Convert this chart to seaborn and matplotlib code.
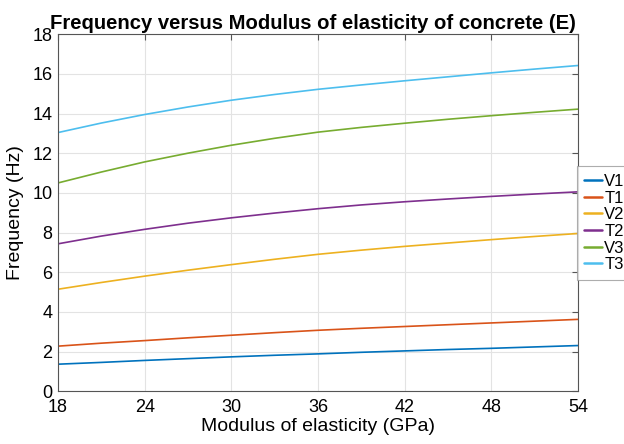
import matplotlib
matplotlib.use("Agg")
import matplotlib.pyplot as plt
import seaborn as sns
import pandas as pd

# Modulus of elasticity (GPa)
E = [18, 21, 24, 27, 30, 33, 36, 39, 42, 45, 48, 51, 54]

# Natural frequencies (Hz) per mode
V1 = [1.36, 1.45, 1.55, 1.64, 1.73, 1.81, 1.88, 1.96, 2.03, 2.10, 2.16, 2.23, 2.30]
T1 = [2.27, 2.42, 2.55, 2.69, 2.82, 2.95, 3.07, 3.17, 3.26, 3.35, 3.44, 3.53, 3.62]
V2 = [5.14, 5.48, 5.80, 6.10, 6.38, 6.65, 6.90, 7.11, 7.30, 7.47, 7.64, 7.80, 7.95]
T2 = [7.43, 7.82, 8.16, 8.47, 8.74, 8.98, 9.20, 9.39, 9.55, 9.69, 9.82, 9.94, 10.05]
V3 = [10.50, 11.05, 11.56, 12.00, 12.40, 12.75, 13.06, 13.30, 13.51, 13.71, 13.89, 14.06, 14.22]
T3 = [13.04, 13.52, 13.95, 14.33, 14.67, 14.96, 15.22, 15.44, 15.65, 15.85, 16.05, 16.24, 16.42]

modes = ["V1", "T1", "V2", "T2", "V3", "T3"]
series = [V1, T1, V2, T2, V3, T3]
colors = ["#0072BD", "#D95319", "#EDB120", "#7E2F8E", "#77AC30", "#4DBEEE"]

rows = []
for name, vals in zip(modes, series):
    for e, f in zip(E, vals):
        rows.append({"E": e, "Frequency": f, "Mode": name})
df = pd.DataFrame(rows)

sns.set_style("white")
plt.rcParams["font.family"] = ["Liberation Sans", "DejaVu Sans"]
plt.rcParams["text.color"] = "black"
plt.rcParams["axes.labelcolor"] = "black"
plt.rcParams["xtick.labelcolor"] = "black"
plt.rcParams["ytick.labelcolor"] = "black"

fig = plt.figure(figsize=(6.24, 4.44), dpi=100)
ax = fig.add_axes([0.093, 0.119, 0.833, 0.804])

sns.lineplot(data=df, x="E", y="Frequency", hue="Mode", hue_order=modes,
             palette=colors, linewidth=1.2, ax=ax, legend=True)

ax.set_xlim(18, 54)
ax.set_ylim(0, 18)
ax.set_xticks([18, 24, 30, 36, 42, 48, 54])
ax.set_yticks(range(0, 19, 2))
ax.tick_params(axis="both", labelsize=13, direction="in", length=4,
               color="#555555", labelcolor="black", top=True, right=True)
ax.tick_params(axis="x", pad=6)
ax.tick_params(axis="y", pad=4)
ax.grid(True, color="#e3e3e3", linewidth=0.8)
for s in ax.spines.values():
    s.set_color("#555555")
    s.set_linewidth(0.8)

ax.set_xlabel("Modulus of elasticity (GPa)", fontsize=14, labelpad=1, color="black")
ax.set_ylabel("Frequency (Hz)", fontsize=14, labelpad=6, color="black")
ax.set_title("Frequency versus Modulus of elasticity of concrete (E)",
             fontsize=14.6, fontweight="bold", pad=4, color="black", x=0.49)

leg = ax.legend(loc="center left", bbox_to_anchor=(0.998, 0.471), fontsize=12,
                frameon=True, fancybox=False, handlelength=1.05,
                handletextpad=0.15, borderpad=0.45, labelspacing=0.1,
                borderaxespad=0)
leg.get_frame().set_edgecolor("#999999")
leg.get_frame().set_linewidth(0.8)
for line in leg.get_lines():
    line.set_linewidth(1.8)
for t in leg.get_texts():
    t.set_color("black")

fig.savefig("out.png", dpi=100)
